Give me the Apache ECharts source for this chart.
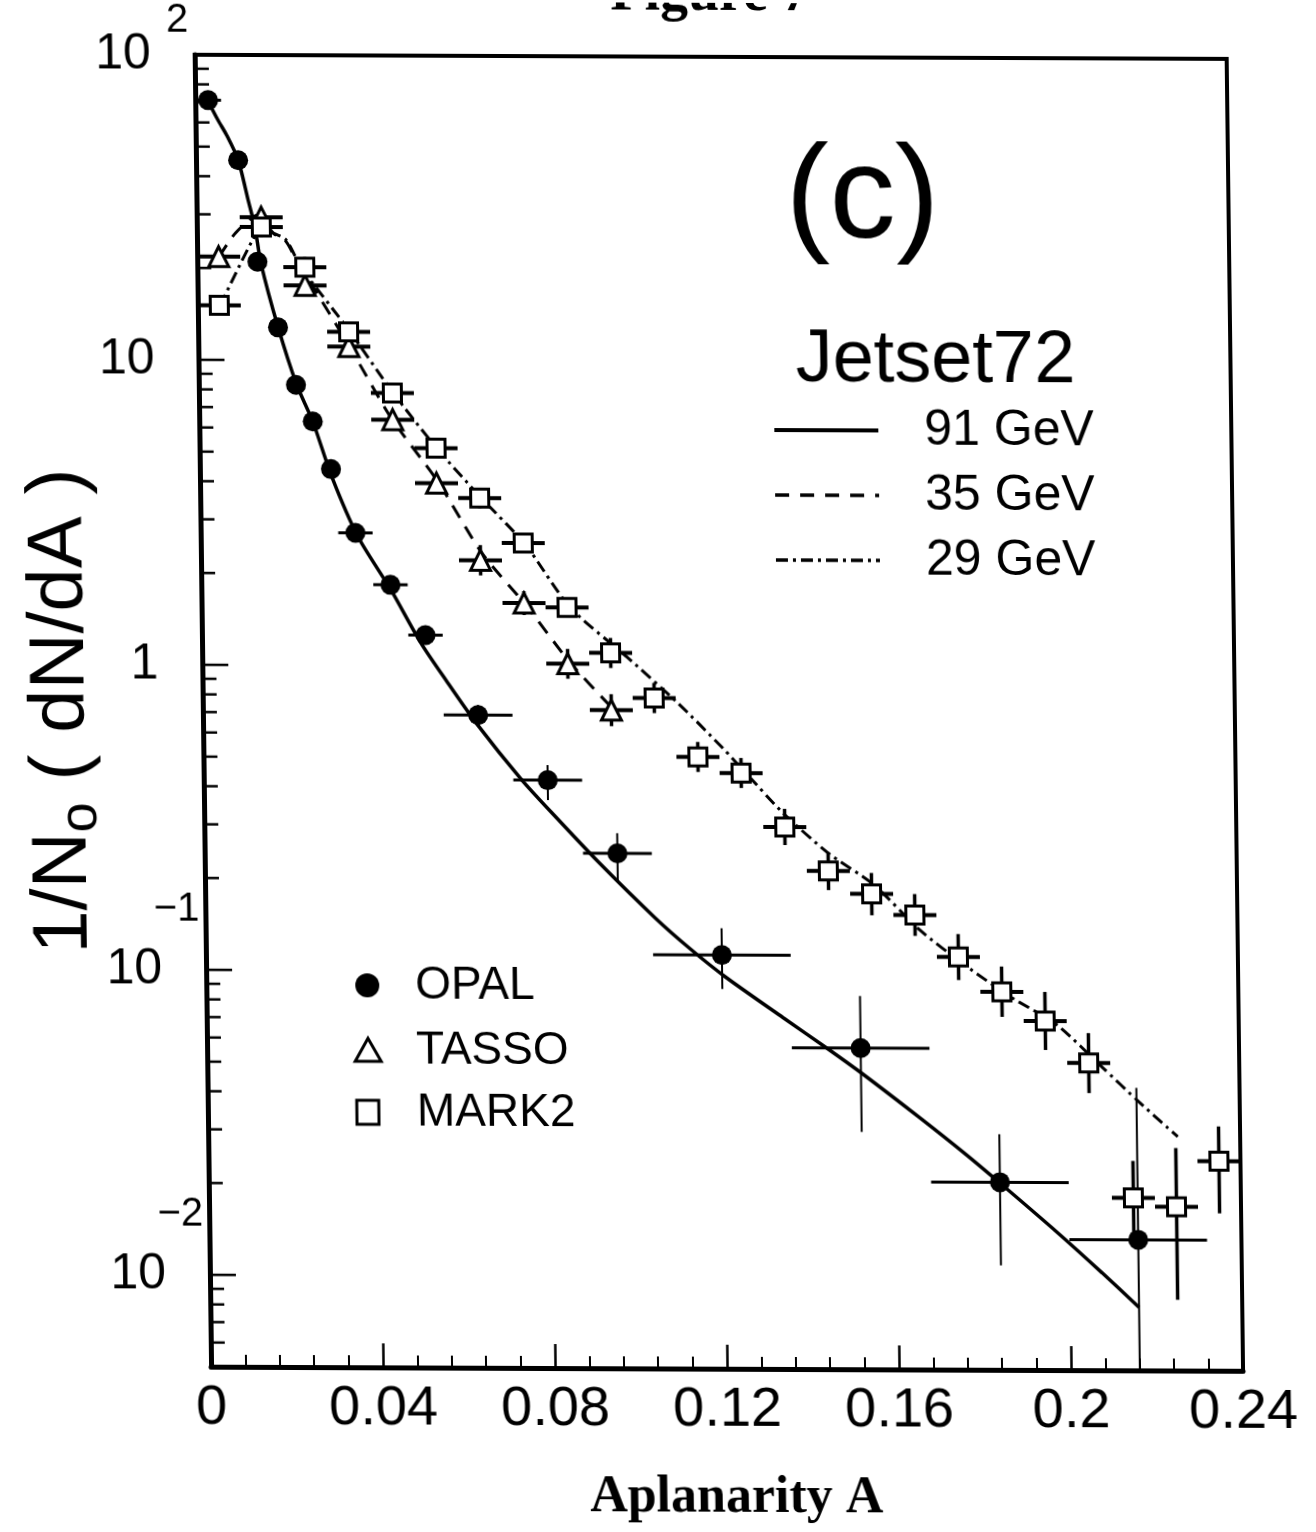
<!DOCTYPE html>
<html>
<head>
<meta charset="utf-8">
<script src="https://cdn.jsdelivr.net/npm/echarts@6/dist/echarts.min.js"></script>
<style>
  html, body { margin: 0; padding: 0; background: #fff; overflow: hidden; }
  /* the scanned figure is slightly sheared, follow it */
  #chart { width: 1316px; height: 1532px; transform-origin: 0 0; transform: matrix(1, 0.004, 0.0125, 1, 0, 0); }
</style>
</head>
<body>
<div id="chart"></div>
<script>
// OPAL 91 GeV
const opalX = [0.003, 0.0098, 0.014, 0.0186, 0.0226, 0.0264, 0.0305, 0.036, 0.044, 0.052, 0.064, 0.080, 0.096, 0.120, 0.152, 0.184, 0.216];
const opalY = [71, 45.2, 21.0, 12.8, 8.3, 6.3, 4.4, 2.72, 1.84, 1.26, 0.69, 0.423, 0.244, 0.1136, 0.0565, 0.0206, 0.0134];
const opalXErr = [0.003, 0.002, 0.002, 0.002, 0.002, 0.002, 0.002, 0.004, 0.004, 0.004, 0.008, 0.008, 0.008, 0.016, 0.016, 0.016, 0.016];
const opalYLo = [69, 44, 20.4, 12.4, 8.0, 6.1, 4.25, 2.62, 1.76, 1.19, 0.64, 0.364, 0.199, 0.0879, 0.030, 0.0110, 0.002];
const opalYHi = [73, 46.5, 21.6, 13.2, 8.6, 6.5, 4.55, 2.82, 1.92, 1.33, 0.745, 0.474, 0.284, 0.139, 0.0837, 0.0296, 0.0422];

// TASSO 35 GeV
const tassoX = [0.005, 0.015, 0.025, 0.035, 0.045, 0.055, 0.065, 0.075, 0.085, 0.095];
const tassoY = [21.8, 29.4, 17.6, 11.1, 6.4, 3.97, 2.22, 1.61, 1.02, 0.719];
const tassoXErr = [0.005, 0.005, 0.005, 0.005, 0.005, 0.005, 0.005, 0.005, 0.005, 0.005];
const tassoYLo = [20.5, 27.7, 16.6, 10.45, 6.03, 3.74, 1.98, 1.47, 0.91, 0.637];
const tassoYHi = [23.2, 31.2, 18.7, 11.8, 6.8, 4.22, 2.49, 1.76, 1.14, 0.811];

// MARK2 29 GeV
const mark2X = [0.005, 0.015, 0.025, 0.035, 0.045, 0.055, 0.065, 0.075, 0.085, 0.095, 0.105, 0.115,
  0.125, 0.135, 0.145, 0.155, 0.165, 0.175, 0.185, 0.195, 0.205, 0.215, 0.225, 0.235];
const mark2Y = [15.1, 27.3, 20.2, 12.4, 7.83, 5.17, 3.55, 2.53, 1.56, 1.107, 0.789, 0.506,
  0.449, 0.299, 0.215, 0.181, 0.1545, 0.1127, 0.0867, 0.0697, 0.0508, 0.0184, 0.0172, 0.0243];
const mark2XErr = [0.005, 0.005, 0.005, 0.005, 0.005, 0.005, 0.005, 0.005, 0.005, 0.005, 0.005, 0.005,
  0.005, 0.005, 0.005, 0.005, 0.005, 0.005, 0.005, 0.005, 0.005, 0.005, 0.005, 0.005];
const mark2YLo = [14.0, 25.3, 18.7, 11.5, 7.26, 4.80, 3.29, 2.35, 1.45, 0.988, 0.704, 0.452,
  0.401, 0.261, 0.186, 0.154, 0.132, 0.0947, 0.0718, 0.056, 0.0405, 0.0139, 0.00853, 0.0164];
const mark2YHi = [16.3, 29.4, 21.8, 13.4, 8.44, 5.57, 3.83, 2.73, 1.68, 1.24, 0.884, 0.567,
  0.503, 0.343, 0.248, 0.212, 0.181, 0.134, 0.105, 0.0868, 0.0637, 0.0243, 0.0268, 0.0316];

// Jetset72 curves
const jet91X = [0.0025, 0.0052, 0.0072, 0.0098, 0.012, 0.0135, 0.0148, 0.0186, 0.0228, 0.0264, 0.0307, 0.0366,
  0.0441, 0.0509, 0.0566, 0.0635, 0.074, 0.0818, 0.0914, 0.1046, 0.1128, 0.1207, 0.134, 0.1444, 0.1522,
  0.1656, 0.176, 0.1845, 0.1971, 0.2075, 0.216];
const jet91Y = [72.7, 61.2, 54.6, 45.3, 33.5, 27.3, 20.8, 12.84, 8.29, 6.3, 4.14, 2.64,
  1.77, 1.187, 0.898, 0.65, 0.423, 0.32, 0.2296, 0.150, 0.1184, 0.0964, 0.0710, 0.0561, 0.0467,
  0.0334, 0.0255, 0.0202, 0.01417, 0.01043, 0.00805];
const jet35X = [0.0051, 0.009, 0.0143, 0.0178, 0.0207, 0.0236, 0.0255, 0.035, 0.0446, 0.0554, 0.0653, 0.0755, 0.0855, 0.0956];
const jet35Y = [21.8, 26.1, 29.9, 26.0, 24.5, 20.5, 18.7, 11.2, 6.5, 4.0, 2.35, 1.58, 1.03, 0.72];
const jet29X = [0.0052, 0.0129, 0.0155, 0.0178, 0.0207, 0.0236, 0.0255, 0.035, 0.045, 0.055, 0.065, 0.0755,
  0.0857, 0.0988, 0.1105, 0.1209, 0.1261, 0.1346, 0.145, 0.1556, 0.1661, 0.1765, 0.1871, 0.1977, 0.2081,
  0.2166, 0.2255];
const jet29Y = [15.1, 24.7, 27.6, 26.1, 24.8, 20.8, 18.9, 12.6, 7.9, 5.2, 3.6, 2.5,
  1.56, 1.074, 0.76, 0.54, 0.449, 0.333, 0.246, 0.1936, 0.138, 0.106, 0.0834, 0.0677, 0.0493,
  0.0379, 0.0292];

// y tick labels (10^n)
const yTickValues = [100, 10, 1, 0.1, 0.01];
const yTickBase = ['10', '10', '1', '10', '10'];
const yTickSup = ['2', '', '', '\u22121', '\u22122'];

const FONT = '"Liberation Sans", Arial, sans-serif';
const SERIF = '"Liberation Serif", "Times New Roman", serif';

const zip = (xs, ...cols) => xs.map((x, i) => [x, ...cols.map(c => c[i])]);

// minor and major ticks of the log axis
const yTicks = [];
for (let k = -3; k <= 2; k++) {
  for (let m = 1; m <= 9; m++) {
    const v = m * Math.pow(10, k);
    if (v > 0.0051 && v <= 100.001) yTicks.push([0, v, m === 1 ? 26 : 14]);
  }
}

function errorBars(hWidth, vWidth) {
  return function (params, api) {
    const x = api.value(0), y = api.value(1), dx = api.value(2);
    const l = api.coord([x - dx, y]), r = api.coord([x + dx, y]);
    const b = api.coord([x, api.value(3)]), t = api.coord([x, api.value(4)]);
    return {
      type: 'group',
      children: [
        { type: 'line', shape: { x1: l[0], y1: l[1], x2: r[0], y2: r[1] }, style: { stroke: '#000', lineWidth: hWidth } },
        { type: 'line', shape: { x1: t[0], y1: t[1], x2: b[0], y2: b[1] }, style: { stroke: '#000', lineWidth: vWidth } }
      ]
    };
  };
}

const chart = echarts.init(document.getElementById('chart'), null, { renderer: 'canvas' });

const option = {
  animation: false,
  backgroundColor: '#fff',
  grid: {
    left: 194, top: 54, width: 1032, height: 1312,
    show: true, borderColor: '#000', borderWidth: 4,
    containLabel: false, outerBoundsMode: 'none'
  },
  xAxis: {
    type: 'value', min: 0, max: 0.24, interval: 0.04,
    name: 'Aplanarity A', nameLocation: 'middle', nameGap: 104,
    nameTextStyle: { fontFamily: SERIF, fontWeight: 'bold', fontSize: 52, color: '#000', padding: [0, 0, 0, 16] },
    axisLine: { lineStyle: { color: '#000', width: 5 } },
    axisTick: { inside: true, length: 24, lineStyle: { color: '#000', width: 2.5 } },
    minorTick: { show: true, splitNumber: 5, length: 12, lineStyle: { color: '#000', width: 2 } },
    axisLabel: { fontFamily: FONT, fontSize: 56, color: '#000', margin: 14 },
    splitLine: { show: false }
  },
  yAxis: {
    type: 'log', logBase: 10, min: 0.005, max: 100,
    axisLine: { show: true, lineStyle: { color: '#000', width: 5 } },
    axisTick: { show: false },
    axisLabel: { show: false },
    splitLine: { show: false }
  },
  graphic: [
    { type: 'text', x: 710, y: 21, style: { text: 'Figure 7', fontFamily: SERIF, fontWeight: 'bold', fontSize: 56, align: 'center', verticalAlign: 'bottom', fill: '#000' } },
    { type: 'text', x: 860, y: 198, style: { text: '(c)', fontFamily: FONT, fontSize: 132, align: 'center', verticalAlign: 'middle', fill: '#000' } },
    { type: 'text', x: 931, y: 358, style: { text: 'Jetset72', fontFamily: FONT, fontSize: 74, align: 'center', verticalAlign: 'middle', fill: '#000' } },
    { type: 'line', shape: { x1: 769, y1: 427, x2: 873, y2: 427 }, style: { stroke: '#000', lineWidth: 4 } },
    { type: 'line', shape: { x1: 769, y1: 492, x2: 873, y2: 492 }, style: { stroke: '#000', lineWidth: 3.5, lineDash: [14, 11] } },
    { type: 'line', shape: { x1: 769, y1: 557, x2: 873, y2: 557 }, style: { stroke: '#000', lineWidth: 3.5, lineDash: [12, 5, 3, 5] } },
    { type: 'text', x: 919, y: 427, style: { text: '91 GeV', fontFamily: FONT, fontSize: 50, verticalAlign: 'middle', fill: '#000' } },
    { type: 'text', x: 919, y: 492, style: { text: '35 GeV', fontFamily: FONT, fontSize: 50, verticalAlign: 'middle', fill: '#000' } },
    { type: 'text', x: 919, y: 557, style: { text: '29 GeV', fontFamily: FONT, fontSize: 50, verticalAlign: 'middle', fill: '#000' } },
    { type: 'circle', shape: { cx: 355, cy: 984, r: 12 }, style: { fill: '#000' } },
    { type: 'polygon', shape: { points: [[355, 1037], [342, 1060], [368, 1060]] }, style: { fill: '#fff', stroke: '#000', lineWidth: 3 } },
    { type: 'rect', shape: { x: 343, y: 1099, width: 22, height: 24 }, style: { fill: '#fff', stroke: '#000', lineWidth: 3 } },
    { type: 'text', x: 403, y: 984, style: { text: 'OPAL', fontFamily: FONT, fontSize: 46, verticalAlign: 'middle', fill: '#000' } },
    { type: 'text', x: 403, y: 1049, style: { text: 'TASSO', fontFamily: FONT, fontSize: 46, verticalAlign: 'middle', fill: '#000' } },
    { type: 'text', x: 403, y: 1111, style: { text: 'MARK2', fontFamily: FONT, fontSize: 46, verticalAlign: 'middle', fill: '#000' } },
    {
      type: 'text', x: 53, y: 711, rotation: Math.PI / 2,
      style: {
        text: '{a|1/N}{s|o}{a| ( dN/dA )}', align: 'center', verticalAlign: 'middle', fill: '#000',
        rich: {
          a: { fontFamily: FONT, fontSize: 78, lineHeight: 90, verticalAlign: 'middle' },
          s: { fontFamily: FONT, fontSize: 54, lineHeight: 56, verticalAlign: 'bottom' }
        }
      }
    }
  ],
  series: [
    {
      name: '91 GeV', type: 'line', data: zip(jet91X, jet91Y), symbol: 'none', smooth: 0.25,
      lineStyle: { color: '#000', width: 3.5 }, z: 2
    },
    {
      name: '35 GeV', type: 'line', data: zip(jet35X, jet35Y), symbol: 'none', smooth: 0.25,
      lineStyle: { color: '#000', width: 3, type: [14, 10] }, z: 2
    },
    {
      name: '29 GeV', type: 'line', data: zip(jet29X, jet29Y), symbol: 'none', smooth: 0.25,
      lineStyle: { color: '#000', width: 3, type: [12, 5, 3, 5] }, z: 2
    },
    { type: 'custom', renderItem: errorBars(3, 2), data: zip(opalX, opalY, opalXErr, opalYLo, opalYHi), encode: { x: 0, y: 1 }, clip: true, z: 3 },
    { type: 'custom', renderItem: errorBars(4, 3.5), data: zip(tassoX, tassoY, tassoXErr, tassoYLo, tassoYHi), encode: { x: 0, y: 1 }, clip: true, z: 3 },
    { type: 'custom', renderItem: errorBars(4, 3.5), data: zip(mark2X, mark2Y, mark2XErr, mark2YLo, mark2YHi), encode: { x: 0, y: 1 }, clip: true, z: 3 },
    { name: 'OPAL', type: 'scatter', data: zip(opalX, opalY), symbol: 'circle', symbolSize: 20, itemStyle: { color: '#000', opacity: 1 }, z: 4 },
    { name: 'TASSO', type: 'scatter', data: zip(tassoX, tassoY), symbol: 'triangle', symbolSize: 20, itemStyle: { color: '#fff', borderColor: '#000', borderWidth: 3, opacity: 1 }, z: 4 },
    { name: 'MARK2', type: 'scatter', data: zip(mark2X, mark2Y), symbol: 'rect', symbolSize: 18, itemStyle: { color: '#fff', borderColor: '#000', borderWidth: 3, opacity: 1 }, z: 4 },
    {
      type: 'custom', data: yTicks, encode: { x: 0, y: 1 }, clip: false, z: 5, silent: true,
      renderItem: function (params, api) {
        const p = api.coord([api.value(0), api.value(1)]);
        return { type: 'line', shape: { x1: p[0], y1: p[1], x2: p[0] + api.value(2), y2: p[1] }, style: { stroke: '#000', lineWidth: 2.5 } };
      }
    },
    {
      type: 'custom', data: yTickValues.map((v, i) => [0, v, i]), encode: { x: 0, y: 1 }, clip: false, z: 5, silent: true,
      renderItem: function (params, api) {
        const i = api.value(2);
        const p = api.coord([api.value(0), api.value(1)]);
        const children = [{
          type: 'text', x: p[0] - 44, y: p[1],
          style: { text: yTickBase[i], align: 'right', verticalAlign: 'middle', fontFamily: FONT, fontSize: 50, fill: '#000' }
        }];
        if (yTickSup[i]) {
          children.push({
            type: 'text', x: p[0] - 6, y: p[1] - (i === 0 ? 34 : 60),
            style: { text: yTickSup[i], align: 'right', verticalAlign: 'middle', fontFamily: FONT, fontSize: 40, fill: '#000' }
          });
        }
        return { type: 'group', children: children };
      }
    }
  ]
};

chart.setOption(option);
</script>
</body>
</html>
